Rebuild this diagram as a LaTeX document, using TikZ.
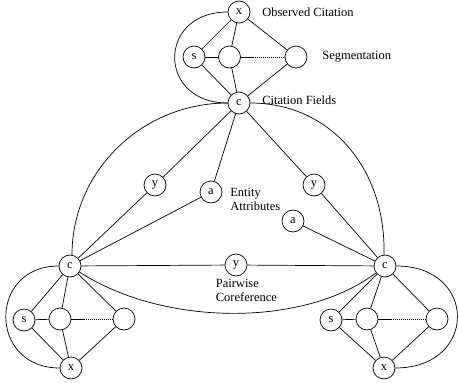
\documentclass[tikz,border=0pt]{standalone}
\usepackage{fontspec}
\setmainfont{Liberation Serif}
\begin{document}
\begin{tikzpicture}[x=1pt,y=-1pt,line width=0.7pt,
  every node/.style={font=\fontsize{12.5}{14}\selectfont},
  var/.style={circle,draw,minimum size=22pt,inner sep=0pt,fill=white},
  lbl/.style={anchor=west,inner sep=0pt,align=left},
  dots/.style={dash pattern=on 0.7pt off 1.3pt}]
\useasboundingbox (0,0) rectangle (458,383);
% top cluster
\node[var] (xT) at (239,12) {x};
\node[var] (sT) at (194,57) {s};
\node[var] (mT) at (229.5,57) {};
\node[var] (rT) at (296,57) {};
\node[var] (cT) at (239,103) {c};
% bottom-left cluster
\node[var] (cL) at (70,266) {c};
\node[var] (sL) at (24,320) {s};
\node[var] (mL) at (60,319) {};
\node[var] (rL) at (124,319) {};
\node[var] (xL) at (71,368) {x};
% bottom-right cluster
\node[var] (cR) at (385,266) {c};
\node[var] (sR) at (331,320) {s};
\node[var] (mR) at (367,319) {};
\node[var] (rR) at (437,319) {};
\node[var] (xR) at (384,368) {x};
% middle
\node[var] (yL) at (155,185) {y};
\node[var] (aL) at (211,192) {a};
\node[var] (yR) at (314,185) {y};
\node[var] (aR) at (293,221) {a};
\node[var] (yM) at (236,265) {y};
% labels
\node[lbl] (l1) at (262,12) {Observed Citation};
\node[lbl] (l2) at (322,57) {Segmentation};
\node[lbl] (l3) at (262,100) {Citation Fields};
\node[lbl] (l4) at (230,199) {Entity\\Attributes};
\node[lbl] (l5) at (215.5,290.5) {Pairwise\\Coreference};
% dotted helper coordinates
\path (mT.east) ++(12,0) coordinate (dT);
\path (mL.east) ++(13,0) coordinate (dL);
\path (mR.east) ++(13,0) coordinate (dR);
% top cluster edges
\draw (xT) -- (sT); \draw (xT) -- (mT); \draw (xT) -- (rT);
\draw (sT) -- (mT); \draw (mT) -- (dT); \draw[dots] (dT) -- (rT);
\draw (sT) -- (cT); \draw (mT) -- (cT); \draw (rT) -- (cT);
\draw (xT.west) .. controls (157,12) and (157,103) .. (cT.west);
% bottom-left edges
\draw (cL) -- (sL); \draw (cL) -- (mL); \draw (cL) -- (rL);
\draw (sL) -- (mL); \draw (mL) -- (dL); \draw[dots] (dL) -- (rL);
\draw (sL) -- (xL); \draw (mL) -- (xL); \draw (rL) -- (xL);
\draw (cL.west) .. controls (-12,266) and (-12,368) .. (xL.west);
% bottom-right edges
\draw (cR) -- (sR); \draw (cR) -- (mR); \draw (cR) -- (rR);
\draw (sR) -- (mR); \draw (mR) -- (dR); \draw[dots] (dR) -- (rR);
\draw (sR) -- (xR); \draw (mR) -- (xR); \draw (rR) -- (xR);
\draw (cR.east) .. controls (478,266) and (478,368) .. (xR.east);
% middle edges
\draw (cT) -- (yL); \draw (yL) -- (cL);
\draw (cT) -- (aL); \draw (aL) -- (cL);
\draw (cT) -- (yR); \draw (yR) -- (cR);
\draw (aR) -- (cR);
\draw (cL) -- (yM); \draw (yM) -- (cR);
\draw (cT.west) .. controls (141,103) and (72,172) .. (cL.80);
\draw (cT.east) .. controls (330,103) and (386,168) .. (cR.95);
\draw (cL) .. controls (165,327) and (305,327) .. (cR);
\end{tikzpicture}
\end{document}
